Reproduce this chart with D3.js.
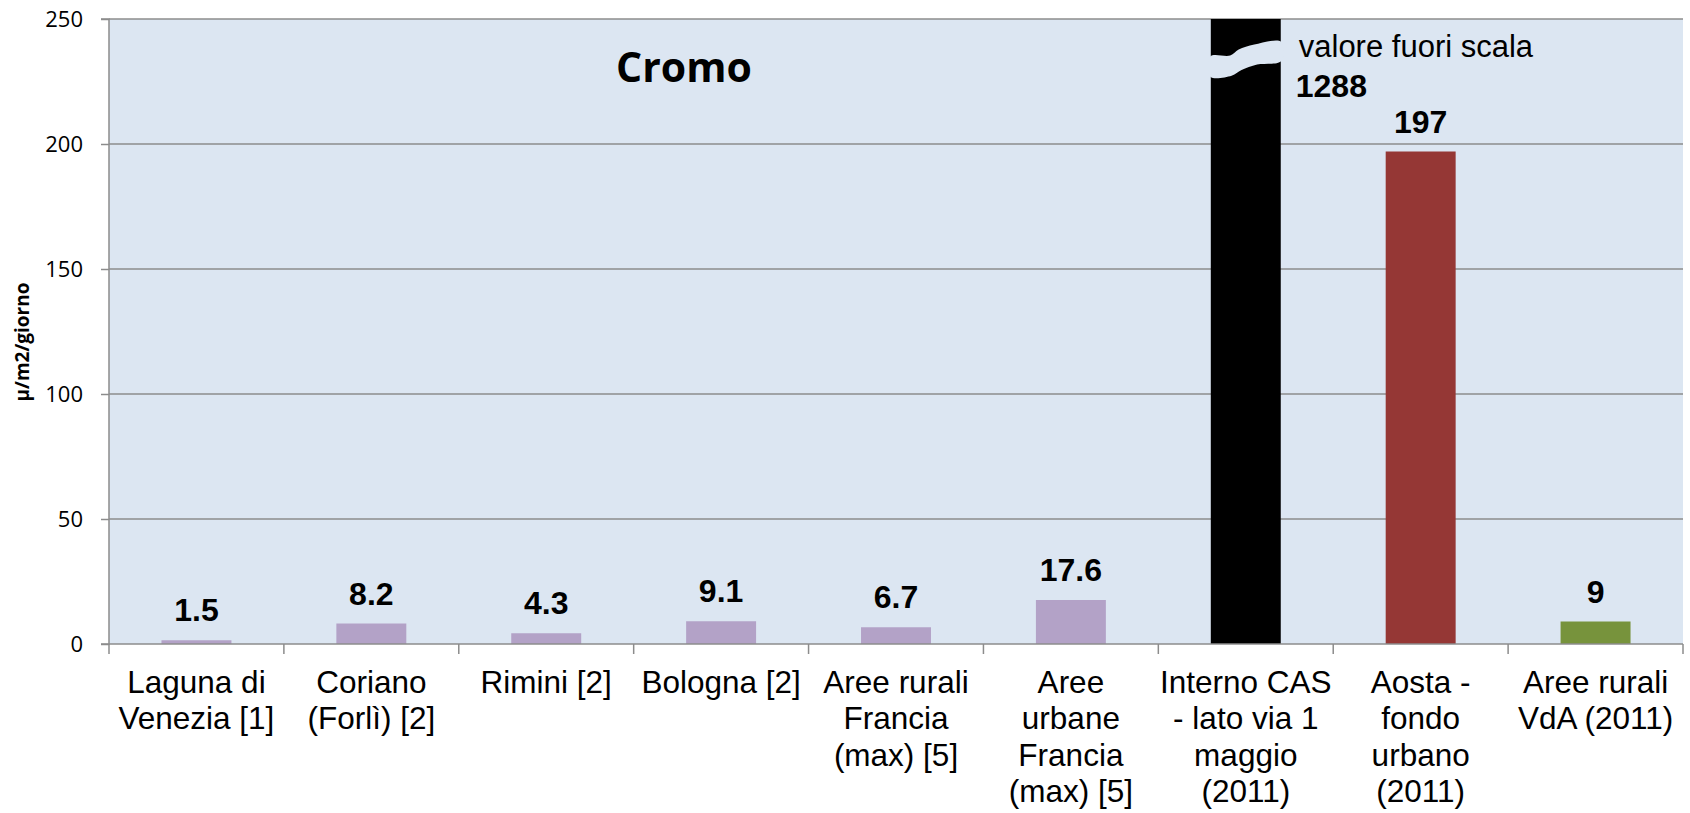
<!DOCTYPE html>
<html>
<head>
<meta charset="utf-8">
<script src="https://cdn.jsdelivr.net/npm/d3@7"></script>
<style>
  body { margin: 0; background: #fff; }
  svg { display: block; }
</style>
</head>
<body>
<div></div>
<script>
// chart data
const categories = [
  ["Laguna di", "Venezia [1]"],
  ["Coriano", "(Forlì) [2]"],
  ["Rimini [2]"],
  ["Bologna [2]"],
  ["Aree rurali", "Francia", "(max) [5]"],
  ["Aree", "urbane", "Francia", "(max) [5]"],
  ["Interno CAS", "- lato via 1", "maggio", "(2011)"],
  ["Aosta -", "fondo", "urbano", "(2011)"],
  ["Aree rurali", "VdA (2011)"]
];
const values = [1.5, 8.2, 4.3, 9.1, 6.7, 17.6, 1288, 197, 9];
const barColors = ["#b3a2c7", "#b3a2c7", "#b3a2c7", "#b3a2c7", "#b3a2c7", "#b3a2c7", "#000000", "#953735", "#77933c"];
const yTicks = [0, 50, 100, 150, 200, 250];
const yMax = 250;
// wavy cut on the out-of-scale bar (fraction of bar width, value)
const breakTop = [[0, 235], [0.28, 235.4], [0.4, 237.8], [0.62, 239.8], [1, 240.9]];
const breakBottom = [[0, 226.9], [0.3, 227.3], [0.44, 229.6], [0.66, 231.8], [1, 233.2]];

const width = 1690, height = 813;
const margin = { top: 19, right: 7, bottom: 169, left: 109 };
const plotW = width - margin.left - margin.right,
    plotH = height - margin.top - margin.bottom;

const svg = d3.select("body div")
    .append("svg")
    .attr("width", width)
    .attr("height", height)
    .append("g")
    .attr("transform", `translate(${margin.left},${margin.top})`);

const x = d3.scaleBand()
    .domain(d3.range(categories.length))
    .range([0, plotW])
    .paddingInner(0.6)
    .paddingOuter(0.3);

const y = d3.scaleLinear()
    .domain([0, yMax])
    .range([plotH, 0]);

// plot background
svg.append("rect")
    .attr("width", plotW)
    .attr("height", plotH)
    .attr("fill", "#dce6f2");

// gridlines
svg.append("g")
    .selectAll("line")
    .data(yTicks.filter(d => d > 0))
    .join("line")
    .attr("x1", 0)
    .attr("x2", plotW)
    .attr("y1", d => y(d))
    .attr("y2", d => y(d))
    .attr("stroke", "#8c8c8c")
    .attr("stroke-width", 1.3);

// bars
svg.append("g")
    .selectAll("rect")
    .data(values)
    .join("rect")
    .attr("x", (d, i) => x(i))
    .attr("width", x.bandwidth())
    .attr("y", d => y(Math.min(d, yMax)))
    .attr("height", d => plotH - y(Math.min(d, yMax)))
    .attr("fill", (d, i) => barColors[i]);

// break mark on the out-of-scale bar
const bigIdx = values.findIndex(d => d > yMax);
const bx = d3.scaleLinear().domain([0, 1]).range([x(bigIdx) - 0.5, x(bigIdx) + x.bandwidth() + 0.5]);
const pts = breakTop.map(p => [bx(p[0]), y(p[1])])
    .concat(breakBottom.slice().reverse().map(p => [bx(p[0]), y(p[1])]));
svg.append("path")
    .attr("d", d3.line().curve(d3.curveCatmullRomClosed)(pts))
    .attr("fill", "#dce6f2");

// value labels (only bars inside the scale)
svg.append("g")
    .selectAll("text")
    .data(values.map((v, i) => ({ v, i })).filter(d => d.v <= yMax))
    .join("text")
    .attr("x", d => x(d.i) + x.bandwidth() / 2)
    .attr("y", d => y(d.v) - 19)
    .attr("text-anchor", "middle")
    .style("font-family", "'Liberation Sans', Arial, sans-serif")
    .style("font-weight", "bold")
    .style("font-size", "32px")
    .text(d => d.v);

// out-of-scale note
const noteX = x(bigIdx) + x.bandwidth() + 18;
svg.append("text")
    .attr("x", noteX)
    .attr("y", y(yMax) + 38)
    .style("font-family", "'Liberation Sans', Arial, sans-serif")
    .style("font-size", "31px")
    .text("valore fuori scala");
svg.append("text")
    .attr("x", noteX - 3)
    .attr("y", y(yMax) + 78)
    .style("font-family", "'Liberation Sans', Arial, sans-serif")
    .style("font-weight", "bold")
    .style("font-size", "32px")
    .text(values[bigIdx]);

// y axis
const yAxis = svg.append("g")
    .call(d3.axisLeft(y).tickValues(yTicks).tickSize(8).tickPadding(18));
yAxis.select(".domain").attr("stroke", "#8c8c8c").attr("stroke-width", 1.5)
    .attr("d", `M-8,0H0V${plotH}H-8`);
yAxis.selectAll(".tick line").attr("stroke", "#8c8c8c").attr("stroke-width", 1.5);
yAxis.selectAll(".tick text")
    .attr("dy", "0.36em")
    .style("font-family", "'Open Sans', sans-serif")
    .style("font-size", "22px")
    .attr("fill", "#000");

// x axis: line with ticks at category boundaries
const xAxis = svg.append("g").attr("transform", `translate(0,${plotH})`);
xAxis.append("line")
    .attr("x1", 0).attr("x2", plotW)
    .attr("stroke", "#8c8c8c").attr("stroke-width", 1.5);
xAxis.selectAll(".xtick")
    .data(d3.range(categories.length + 1))
    .join("line")
    .attr("class", "xtick")
    .attr("x1", i => i * x.step())
    .attr("x2", i => i * x.step())
    .attr("y1", 0).attr("y2", 10)
    .attr("stroke", "#8c8c8c").attr("stroke-width", 1.5);

// category labels (multi-line)
const lbl = xAxis.selectAll(".xlabel")
    .data(categories)
    .join("text")
    .attr("class", "xlabel")
    .attr("text-anchor", "middle")
    .attr("transform", (d, i) => `translate(${x(i) + x.bandwidth() / 2},49)`)
    .style("font-family", "'Liberation Sans', Arial, sans-serif")
    .style("font-size", "31.5px");
lbl.selectAll("tspan")
    .data(d => d)
    .join("tspan")
    .attr("x", 0)
    .attr("y", (d, j) => j * 36.3)
    .text(d => d);

// y axis title
svg.append("text")
    .attr("transform", `translate(${29 - margin.left},${342 - margin.top}) rotate(-90)`)
    .attr("text-anchor", "middle")
    .style("font-family", "'Open Sans', sans-serif")
    .style("font-weight", "bold")
    .style("font-size", "19px")
    .text("µ/m2/giorno");

// chart title
svg.append("text")
    .attr("x", 684 - margin.left)
    .attr("y", 82 - margin.top)
    .attr("text-anchor", "middle")
    .style("font-family", "'Open Sans', sans-serif")
    .style("font-weight", "bold")
    .style("font-size", "41px")
    .text("Cromo");
</script>
</body>
</html>
